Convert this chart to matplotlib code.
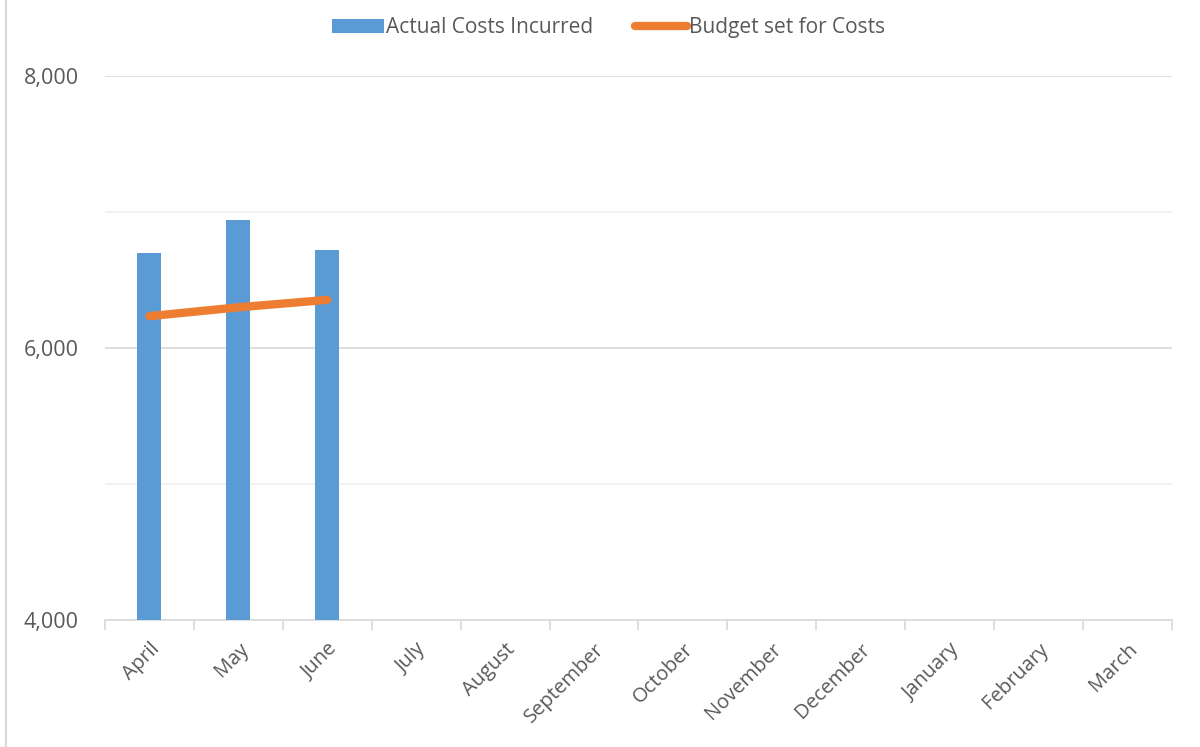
import matplotlib
matplotlib.use('Agg')
import matplotlib.pyplot as plt
from matplotlib.lines import Line2D
from matplotlib.ticker import FuncFormatter, MultipleLocator
import numpy as np

plt.rcParams['font.family'] = ['Open Sans', 'DejaVu Sans']

months = ['April', 'May', 'June', 'July', 'August', 'September', 'October',
          'November', 'December', 'January', 'February', 'March']
actual = [6700, 6940, 6720]
budget = [6235, 6300, 6355]

fig = plt.figure(figsize=(12, 7.47), dpi=100)
ax = fig.add_axes([0.0875, 0.17, 0.889, 0.728])

x = np.arange(len(months))
bars = ax.bar(x[:len(actual)], actual, width=0.27, color='#5b9bd5', zorder=3,
              label='Actual Costs Incurred')
line, = ax.plot(x[:len(budget)], budget, color='#ed7d31', lw=6, solid_capstyle='round',
                zorder=4, label='Budget set for Costs')

ax.set_xlim(-0.5, len(months) - 0.5)
ax.set_ylim(4000, 8000)
ax.yaxis.set_major_locator(MultipleLocator(2000))
ax.yaxis.set_minor_locator(MultipleLocator(1000))
ax.yaxis.set_major_formatter(FuncFormatter(lambda v, p: f'{int(v):,}'))
ax.grid(axis='y', which='major', color='#d9d9d9', lw=1.2, zorder=0)
ax.grid(axis='y', which='minor', color='#efefef', lw=1.2, zorder=0)
ax.tick_params(axis='y', which='both', length=0, labelsize=15.5, labelcolor='#595959', pad=19)

ax.set_xticks(x)
ax.set_xticklabels(months, rotation=45, ha='right', rotation_mode='anchor',
                   fontsize=14.5, color='#595959')
ax.set_xticks(np.arange(-0.5, len(months)), minor=True)
ax.tick_params(axis='x', which='major', length=0, pad=14)
ax.tick_params(axis='x', which='minor', length=7, color='#d9d9d9', width=1.2)

for s in ['top', 'right', 'left']:
    ax.spines[s].set_visible(False)
ax.spines['bottom'].set_color('#d9d9d9')
ax.spines['bottom'].set_linewidth(1.2)

ax.legend([bars, line], ['Actual Costs Incurred', 'Budget set for Costs'],
          loc='lower center', bbox_to_anchor=(0.472, 1.035), ncol=2, frameon=False,
          fontsize=15, labelcolor='#595959', handlelength=2.5, handletextpad=0.1,
          columnspacing=2.0)

fig.add_artist(Line2D([0.005, 0.005], [0, 1], color='#d9d9d9', lw=1.5))

fig.savefig('out.png', dpi=100)
